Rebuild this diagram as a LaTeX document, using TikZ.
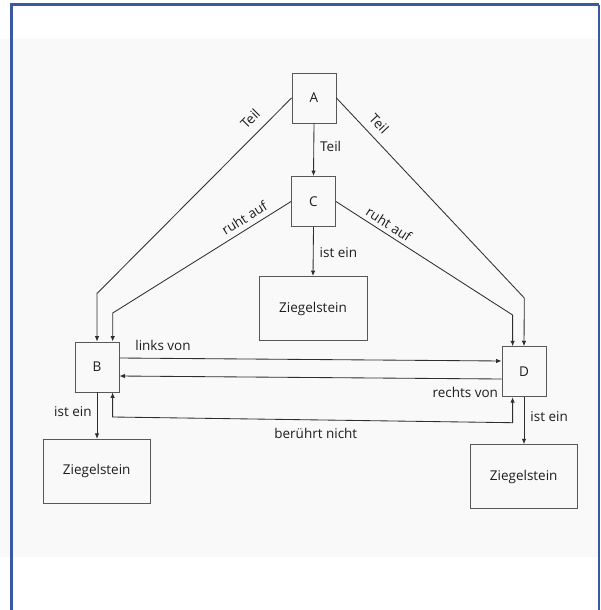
\documentclass[tikz,border=0pt]{standalone}
\usepackage{fontspec}
\setmainfont{Open Sans}
\usetikzlibrary{arrows.meta}
\definecolor{frameblue}{HTML}{3A57A8}
\definecolor{panel}{HTML}{F9F9F9}
\definecolor{ink}{HTML}{2E2E2E}
\definecolor{textink}{HTML}{1E1E1E}
\begin{document}
\begin{tikzpicture}[x=1pt,y=-1pt,
  box/.style={draw=ink!80, line width=0.9pt, inner sep=0pt, text=textink,
    font=\fontsize{13.5}{16}\selectfont},
  small/.style={box, minimum width=44pt, minimum height=50pt},
  brick/.style={box, minimum width=107pt, minimum height=64pt},
  conn/.style={draw=ink, line width=0.85pt, -{Latex[length=5.5pt,width=4.5pt]}},
  lbl/.style={font=\fontsize{13.5}{16}\selectfont, text=textink, inner sep=1pt}]
% canvas, grey panel and blue frame
\useasboundingbox (0,0) rectangle (600,610);
\fill[white] (0,0) rectangle (600,610);
\fill[panel] (0,39) rectangle (600,557);
\draw[frameblue, line width=3pt] (11.6,610) -- (11.6,4.7) -- (599,4.7);
\draw[frameblue, line width=1.6pt] (598.9,4.7) -- (598.9,610);

% concept boxes
\node[small] (A) at (314,98) {A};
\node[small] (C) at (313.5,201.5) {C};
\node[small] (B) at (97,367) {B};
\node[small] (D) at (524,371.7) {D};
\node[brick, minimum width=108pt] (ZC) at (313,308.5) {Ziegelstein};
\node[brick] (ZB) at (96.7,471.3) {Ziegelstein};
\node[brick] (ZD) at (523.7,476.7) {Ziegelstein};

% bend points of the routed connectors
\coordinate (ab) at (97.5,293);
\coordinate (cb) at (112.7,313);
\coordinate (ad) at (524.3,298);
\coordinate (cd) at (512.6,315);
\coordinate (bn1) at (112.6,417);
\coordinate (bn2) at (512.6,422.7);

% part-of and rests-on relations
\draw[conn] (A.west) -- node[lbl, sloped, above=8pt, pos=0.16] {Teil} (ab) -- (ab -| B.north) -- (B.north);
\draw[conn] (C.west) -- node[lbl, sloped, above=4pt, pos=0.23] {ruht auf} (cb) -- ([xshift=15.7pt]B.north);
\draw[conn] (A.east) -- node[lbl, sloped, above=7pt, pos=0.175] {Teil} (ad) -- (D.north);
\draw[conn] (C.east) -- node[lbl, sloped, above=3pt, pos=0.27] {ruht auf} (cd) -- ([xshift=-11.4pt]D.north);
\draw[conn] (A.south) -- node[lbl, right=5pt, pos=0.44] {Teil} (C.north);

% instance-of relations
\draw[conn] (C.south) -- node[lbl, right=5pt, pos=0.53] {ist ein} (ZC.north);
\draw[conn] (B.south) -- node[lbl, left=4pt, pos=0.41] {ist ein} (B.south |- ZB.north);
\draw[conn] (D.south) -- node[lbl, right=5pt, pos=0.42] {ist ein} (D.south |- ZD.north);

% spatial relations between B and D
\draw[conn] ([yshift=9pt]B.east) -- node[lbl, above=6pt, pos=0.114] {links von} ([yshift=10.7pt]D.west);
\draw[conn] ([yshift=-7.3pt]D.west) -- node[lbl, below=7pt, pos=0.095] {rechts von} ([yshift=-9pt]B.east);
\draw[conn, {Latex[length=5.5pt,width=4.5pt]}-{Latex[length=5.5pt,width=4.5pt]}]
  ([xshift=15.6pt]B.south) -- (bn1) -- node[lbl, below=7pt, pos=0.508] {berührt nicht} (bn2) -- ([xshift=-11.4pt]D.south);
\end{tikzpicture}
\end{document}
